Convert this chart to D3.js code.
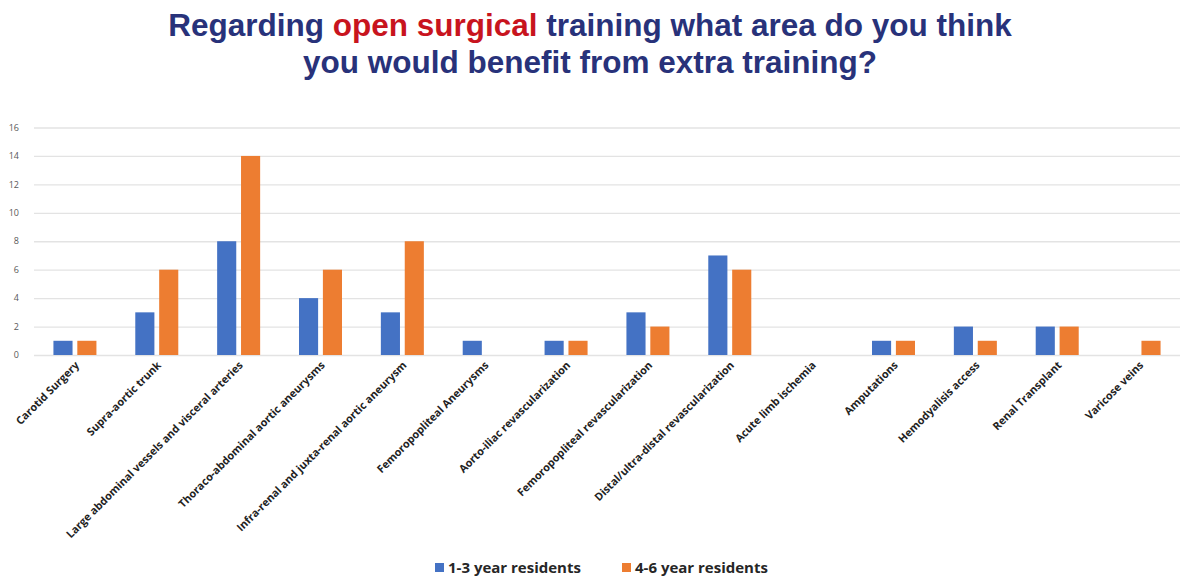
<!DOCTYPE html>
<html>
<head>
<meta charset="utf-8">
<script src="https://cdn.jsdelivr.net/npm/d3@7"></script>
<style>
  body { margin: 0; background: #fff; }
  .grid line { stroke: #e3e3e3; stroke-width: 1.3; }
  .grid .domain { display: none; }
  .ytick text { fill: #595959; font-family: "Open Sans", sans-serif; font-size: 9px; }
  .cat { fill: #222; font-family: "Open Sans", sans-serif; font-size: 10.8px; font-weight: 700; }
  .legend text { fill: #262626; font-family: "Open Sans", sans-serif; font-size: 15px; font-weight: 700; }
</style>
</head>
<body>
<div id="chart"></div>
<script>
// chart data
var categories = [
    "Carotid Surgery",
    "Supra-aortic trunk",
    "Large abdominal vessels and visceral arteries",
    "Thoraco-abdominal aortic aneurysms",
    "Infra-renal and juxta-renal aortic aneurysm",
    "Femoropopliteal Aneurysms",
    "Aorto-iliac revascularization",
    "Femoropopliteal revascularization",
    "Distal/ultra-distal revascularization",
    "Acute limb ischemia",
    "Amputations",
    "Hemodyalisis access",
    "Renal Transplant",
    "Varicose veins"
];
var seriesNames = ["1-3 year residents", "4-6 year residents"];
var juniors = [1, 3, 8, 4, 3, 1, 1, 3, 7, 0, 1, 2, 2, 0];
var seniors = [1, 6, 14, 6, 8, 0, 1, 2, 6, 0, 1, 1, 2, 1];
var yTicks = [0, 2, 4, 6, 8, 10, 12, 14, 16];
var colors = ["#4472c4", "#ed7d31"];

var width = 1180, height = 580;

var svg = d3.select("#chart").append("svg")
    .attr("width", width)
    .attr("height", height);

// title, two lines, middle words in red
var title = svg.append("text")
    .attr("text-anchor", "middle")
    .style("font-family", "'Liberation Sans', Arial, sans-serif")
    .style("font-weight", "bold")
    .style("font-size", "31.5px")
    .style("fill", "#28327a");
var l1 = title.append("tspan").attr("x", 590).attr("y", 36);
l1.append("tspan").text("Regarding ");
l1.append("tspan").style("fill", "#c8141e").text("open surgical");
l1.append("tspan").text(" training what area do you think");
title.append("tspan").attr("x", 590).attr("y", 73)
    .text("you would benefit from extra training?");

// scales
var x0 = d3.scaleBand().domain(categories).range([34, 1180]);
var x1 = d3.scaleBand().domain(seriesNames).range([-21.5, 21.5]).paddingInner(0.2);
var y = d3.scaleLinear().domain([0, 16]).range([355, 127.5]);

// gridlines
svg.append("g")
    .attr("class", "grid")
    .attr("transform", "translate(34,0)")
    .call(d3.axisRight(y).tickValues(yTicks).tickSize(1146).tickFormat(""));

// y tick labels
svg.append("g")
    .attr("class", "ytick")
    .selectAll("text")
    .data(yTicks)
    .enter().append("text")
    .attr("x", 19)
    .attr("y", function(d) { return y(d); })
    .attr("dy", "0.35em")
    .attr("text-anchor", "end")
    .text(function(d) { return d; });

// bars
var rows = categories.map(function(c, i) {
    return { cat: c, values: [juniors[i], seniors[i]] };
});

var groups = svg.selectAll(".group")
    .data(rows)
    .enter().append("g")
    .attr("class", "group")
    .attr("transform", function(d) {
        return "translate(" + (x0(d.cat) + x0.bandwidth() / 2) + ",0)";
    });

groups.selectAll("rect")
    .data(function(d) {
        return d.values.map(function(v, k) { return { key: seriesNames[k], value: v, k: k }; });
    })
    .enter().append("rect")
    .filter(function(d) { return d.value > 0; })
    .attr("x", function(d) { return x1(d.key); })
    .attr("width", x1.bandwidth())
    .attr("y", function(d) { return y(d.value); })
    .attr("height", function(d) { return y(0) - y(d.value); })
    .attr("fill", function(d) { return colors[d.k]; });

// rotated category labels
svg.selectAll(".cat")
    .data(categories)
    .enter().append("text")
    .attr("class", "cat")
    .attr("text-anchor", "end")
    .attr("transform", function(d) {
        return "translate(" + (x0(d) + x0.bandwidth() / 2 + 5) + ",366) rotate(-45)";
    })
    .text(function(d) { return d; });

// legend
var legend = svg.append("g").attr("class", "legend");
var legendX = [435, 622];
seriesNames.forEach(function(name, k) {
    legend.append("rect")
        .attr("x", legendX[k])
        .attr("y", 563)
        .attr("width", 9)
        .attr("height", 9)
        .attr("fill", colors[k]);
    legend.append("text")
        .attr("x", legendX[k] + 13)
        .attr("y", 573)
        .text(name);
});
</script>
</body>
</html>
